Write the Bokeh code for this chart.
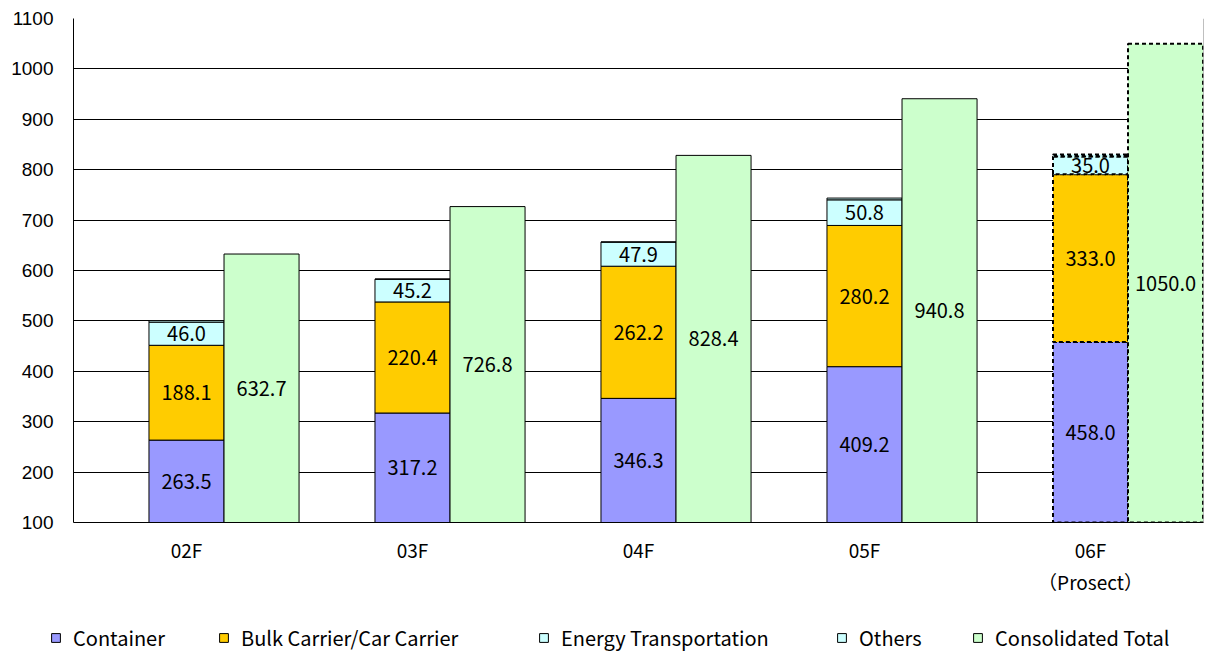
from bokeh.plotting import figure
from bokeh.layouts import column
from bokeh.models import ColumnDataSource, FixedTicker, Legend, LegendItem, Span
from bokeh.embed import file_html
from bokeh.resources import INLINE
from bokeh.core.properties import value

categories = ["02F", "03F", "04F", "05F", "06F\n（Prosect）"]
container = [263.5, 317.2, 346.3, 409.2, 458.0]
bulk = [188.1, 220.4, 262.2, 280.2, 333.0]
energy = [46.0, 45.2, 47.9, 50.8, 35.0]
others = [3.0, 0.0, 0.0, 3.5, 4.0]
consolidated = [632.7, 726.8, 828.4, 940.8, 1050.0]
series_names = ["Container", "Bulk Carrier/Car Carrier", "Energy Transportation",
                "Others", "Consolidated Total"]
colors = ["#9999FF", "#FFCC00", "#CCFFFF", "#CCFFFF", "#CCFFCC"]
y_ticks = [100, 200, 300, 400, 500, 600, 700, 800, 900, 1000, 1100]
n_actual = 4  # first four years are actual, last one is a forecast (dashed)

Y_MIN, Y_MAX = 100, 1100
BAR_W = 0.332
OFFSET = 0.332
GOTHIC = "Noto Sans CJK JP"
W = 1205

p = figure(width=W, height=598, output_backend="svg", toolbar_location=None,
           x_range=(-0.5, 4.5), y_range=(Y_MIN, Y_MAX),
           min_border_left=73, min_border_right=2, min_border_top=18,
           min_border_bottom=76)
p.background_fill_color = "white"
p.border_fill_color = "white"
p.outline_line_color = None

# grid
p.xgrid.visible = False
p.ygrid.ticker = FixedTicker(ticks=y_ticks)
p.ygrid.grid_line_color = "black"
p.ygrid.grid_line_width = 1

# axes
p.yaxis.ticker = FixedTicker(ticks=y_ticks)
p.yaxis.axis_line_color = "black"
p.yaxis.major_tick_line_color = None
p.yaxis.minor_tick_line_color = None
p.yaxis.major_tick_out = 0
p.yaxis.major_tick_in = 0
p.yaxis.major_label_standoff = 20
p.yaxis.major_label_text_font = "Liberation Sans"
p.yaxis.major_label_text_font_size = "19px"
p.yaxis.major_label_text_color = "black"

xs = list(range(len(categories)))
p.xaxis.ticker = FixedTicker(ticks=xs)
p.xaxis.major_label_overrides = {i: c for i, c in enumerate(categories)}
p.xaxis.axis_line_color = "black"
p.xaxis.major_tick_line_color = None
p.xaxis.minor_tick_line_color = None
p.xaxis.major_tick_out = 0
p.xaxis.major_tick_in = 0
p.xaxis.major_label_standoff = 13
p.xaxis.major_label_text_font = GOTHIC
p.xaxis.major_label_text_font_size = "19px"
p.xaxis.major_label_text_color = "black"

# stacked data
bottoms = []
tops = []
stack_vals = [container, bulk, energy, others]
cum = [0.0] * len(xs)
for vals in stack_vals:
    b = list(cum)
    t = [c + v for c, v in zip(cum, vals)]
    bottoms.append(b)
    tops.append(t)
    cum = t

solid_sources = {}
for k, name in enumerate(series_names):
    for part, idx in (("solid", range(0, n_actual)), ("dash", range(n_actual, len(xs)))):
        idx = list(idx)
        if k < 4:
            src = ColumnDataSource(dict(
                x=[xs[i] for i in idx],
                bottom=[bottoms[k][i] for i in idx],
                top=[tops[k][i] for i in idx]))
        else:
            src = ColumnDataSource(dict(
                x=[xs[i] + OFFSET for i in idx],
                bottom=[0.0 for i in idx],
                top=[consolidated[i] for i in idx]))
        kw = dict(line_color="black", line_width=1)
        if part == "dash":
            kw = dict(line_color="black", line_width=2, line_dash="4 3")
        else:
            solid_sources[name] = src
        p.vbar(x="x", bottom="bottom", top="top", width=BAR_W, source=src,
               fill_color=colors[k], **kw)

# value labels (not for Others)
lx, ly, lt = [], [], []
for k in range(3):
    for i in xs:
        lo = max(bottoms[k][i], Y_MIN)
        lx.append(xs[i])
        ly.append((lo + tops[k][i]) / 2)
        lt.append(f"{stack_vals[k][i]:.1f}")
for i in xs:
    lx.append(xs[i] + OFFSET)
    ly.append((Y_MIN + consolidated[i]) / 2)
    lt.append(f"{consolidated[i]:.1f}")
lsrc = ColumnDataSource(dict(x=lx, y=ly, t=lt))
p.text(x="x", y="y", text="t", source=lsrc, text_align="center",
       text_baseline="middle", text_font=value(GOTHIC), text_font_size="20px",
       text_color="black")

# right border of plot area
p.add_layout(Span(location=4.5, dimension="height", line_color="#808080", line_width=1))

# legend strip below the chart: hidden key renderers, legend drawn without the inactive veil
pl = figure(width=W, height=54, output_backend="svg", toolbar_location=None,
            x_range=(50, 55), y_range=(-2000, -1000), x_axis_location=None,
            y_axis_location=None, min_border=0)
pl.outline_line_color = None
pl.xgrid.visible = False
pl.ygrid.visible = False
pl.background_fill_color = "white"
pl.border_fill_color = "white"
legend_x = [50, 218, 538, 836, 972]
for k, (name, lxp) in enumerate(zip(series_names, legend_x)):
    r = pl.vbar(x="x", bottom="bottom", top="top", width=BAR_W,
                source=solid_sources[name], fill_color=colors[k],
                line_color="black", line_width=1, visible=False)
    lg = Legend(items=[LegendItem(label=name, renderers=[r])],
                location=(lxp, 0), orientation="horizontal",
                label_text_font=GOTHIC, label_text_font_size="20px",
                label_text_color="black",
                glyph_width=11, glyph_height=11, label_standoff=12,
                padding=0, margin=0, border_line_color=None,
                background_fill_alpha=0, inactive_fill_alpha=0)
    pl.add_layout(lg, "center")

layout = column(p, column(pl, spacing=0), spacing=0)
open("out.html", "w").write(file_html(layout, INLINE))
